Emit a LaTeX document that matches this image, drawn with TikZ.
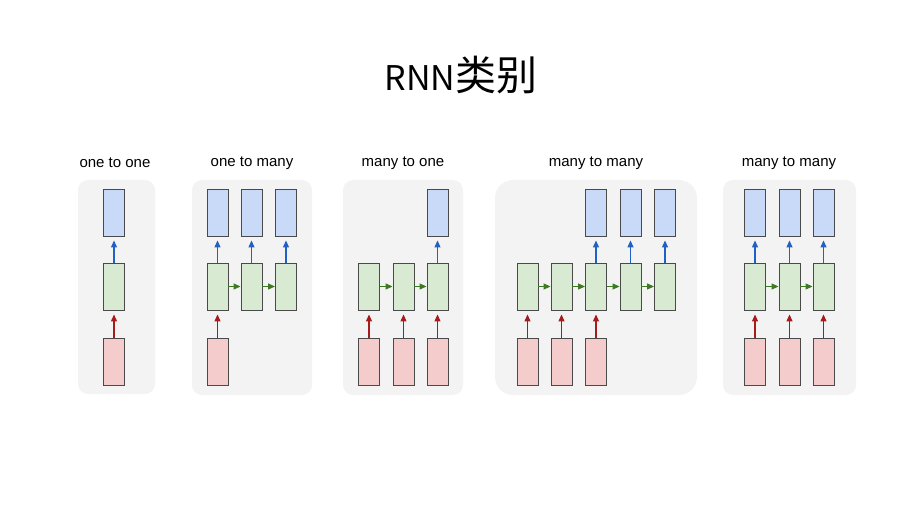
\documentclass[tikz,border=0pt]{standalone}
\usepackage{fontspec}
\setmainfont{Liberation Sans}
\newfontfamily\cjkfont{Noto Sans CJK SC}
\usetikzlibrary{arrows.meta}

\definecolor{panelgray}{HTML}{F3F3F3}
\definecolor{outblue}{HTML}{C9DAF8}
\definecolor{hidgreen}{HTML}{D9EAD3}
\definecolor{inred}{HTML}{F4CCCC}
\definecolor{boxline}{HTML}{4A4A4A}
\definecolor{arrblue}{HTML}{2160C4}
\definecolor{arrgreen}{HTML}{3D7A23}
\definecolor{arrred}{HTML}{A61C1C}

\tikzset{
  cell/.style={draw=boxline, line width=0.9pt, minimum width=21pt, minimum height=47pt, inner sep=0pt},
  outcell/.style={cell, fill=outblue},
  hidcell/.style={cell, fill=hidgreen},
  incell/.style={cell, fill=inred},
  link/.style={-{Triangle[length=7pt,width=6pt]}, line width=1.2pt},
  uplink/.style={link, shorten >=4pt},
  panel/.style={fill=panelgray, rounded corners=10pt},
  caption/.style={font=\fontsize{15}{18}\selectfont}
}

\begin{document}
\begin{tikzpicture}[x=1pt, y=-1pt]
  \useasboundingbox (0,0) rectangle (920,518);
  \node (title) at (461,75) {\cjkfont\fontsize{34}{40}\selectfont RNN{\fontsize{41}{46}\selectfont 类别}};

  % one to one
  \fill[panel] (78,180) rectangle (155,394);
  \node[caption] (t-a) at (115,163) {one to one};
  \node[outcell] (a-y1) at (114,212.5) {};
  \node[hidcell] (a-h1) at (114,286.5) {};
  \node[incell]  (a-x1) at (114,361.5) {};
  \draw[uplink, arrblue] (a-h1.north) -- (a-y1.south);
  \draw[uplink, arrred]  (a-x1.north) -- (a-h1.south);

  % one to many
  \fill[panel] (192,180) rectangle (312,395);
  \node[caption] (t-b) at (252,163) {one to many};
  \foreach \i/\x in {1/217.5, 2/251.5, 3/286} {
    \node[outcell] (b-y\i) at (\x,212.5) {};
    \node[hidcell] (b-h\i) at (\x,286.5) {};
    \draw[uplink, arrblue] (b-h\i.north) -- (b-y\i.south);
  }
  \node[incell] (b-x1) at (217.5,361.5) {};
  \draw[uplink, arrred] (b-x1.north) -- (b-h1.south);
  \draw[link, arrgreen] (b-h1.east) -- (b-h2.west);
  \draw[link, arrgreen] (b-h2.east) -- (b-h3.west);

  % many to one
  \fill[panel] (343,180) rectangle (463,395);
  \node[caption] (t-c) at (403,163) {many to one};
  \foreach \i/\x in {1/369, 2/403.5, 3/437.5} {
    \node[hidcell] (c-h\i) at (\x,286.5) {};
    \node[incell]  (c-x\i) at (\x,361.5) {};
    \draw[uplink, arrred] (c-x\i.north) -- (c-h\i.south);
  }
  \node[outcell] (c-y3) at (437.5,212.5) {};
  \draw[uplink, arrblue] (c-h3.north) -- (c-y3.south);
  \draw[link, arrgreen] (c-h1.east) -- (c-h2.west);
  \draw[link, arrgreen] (c-h2.east) -- (c-h3.west);

  % many to many, delayed
  \fill[panel, rounded corners=18pt] (495,180) rectangle (697,395);
  \node[caption] (t-d) at (596,163) {many to many};
  \foreach \i/\x in {1/527.5, 2/561.5, 3/596, 4/630.5, 5/665} {
    \node[hidcell] (d-h\i) at (\x,286.5) {};
  }
  \foreach \i/\x in {1/527.5, 2/561.5, 3/596} {
    \node[incell] (d-x\i) at (\x,361.5) {};
    \draw[uplink, arrred] (d-x\i.north) -- (d-h\i.south);
  }
  \foreach \i/\x in {3/596, 4/630.5, 5/665} {
    \node[outcell] (d-y\i) at (\x,212.5) {};
    \draw[uplink, arrblue] (d-h\i.north) -- (d-y\i.south);
  }
  \foreach \i/\j in {1/2, 2/3, 3/4, 4/5} {
    \draw[link, arrgreen] (d-h\i.east) -- (d-h\j.west);
  }

  % many to many, synced
  \fill[panel] (723,180) rectangle (856,395);
  \node[caption] (t-e) at (789,163) {many to many};
  \foreach \i/\x in {1/755, 2/789.5, 3/823.5} {
    \node[outcell] (e-y\i) at (\x,212.5) {};
    \node[hidcell] (e-h\i) at (\x,286.5) {};
    \node[incell]  (e-x\i) at (\x,361.5) {};
    \draw[uplink, arrblue] (e-h\i.north) -- (e-y\i.south);
    \draw[uplink, arrred]  (e-x\i.north) -- (e-h\i.south);
  }
  \draw[link, arrgreen] (e-h1.east) -- (e-h2.west);
  \draw[link, arrgreen] (e-h2.east) -- (e-h3.west);
\end{tikzpicture}
\end{document}
